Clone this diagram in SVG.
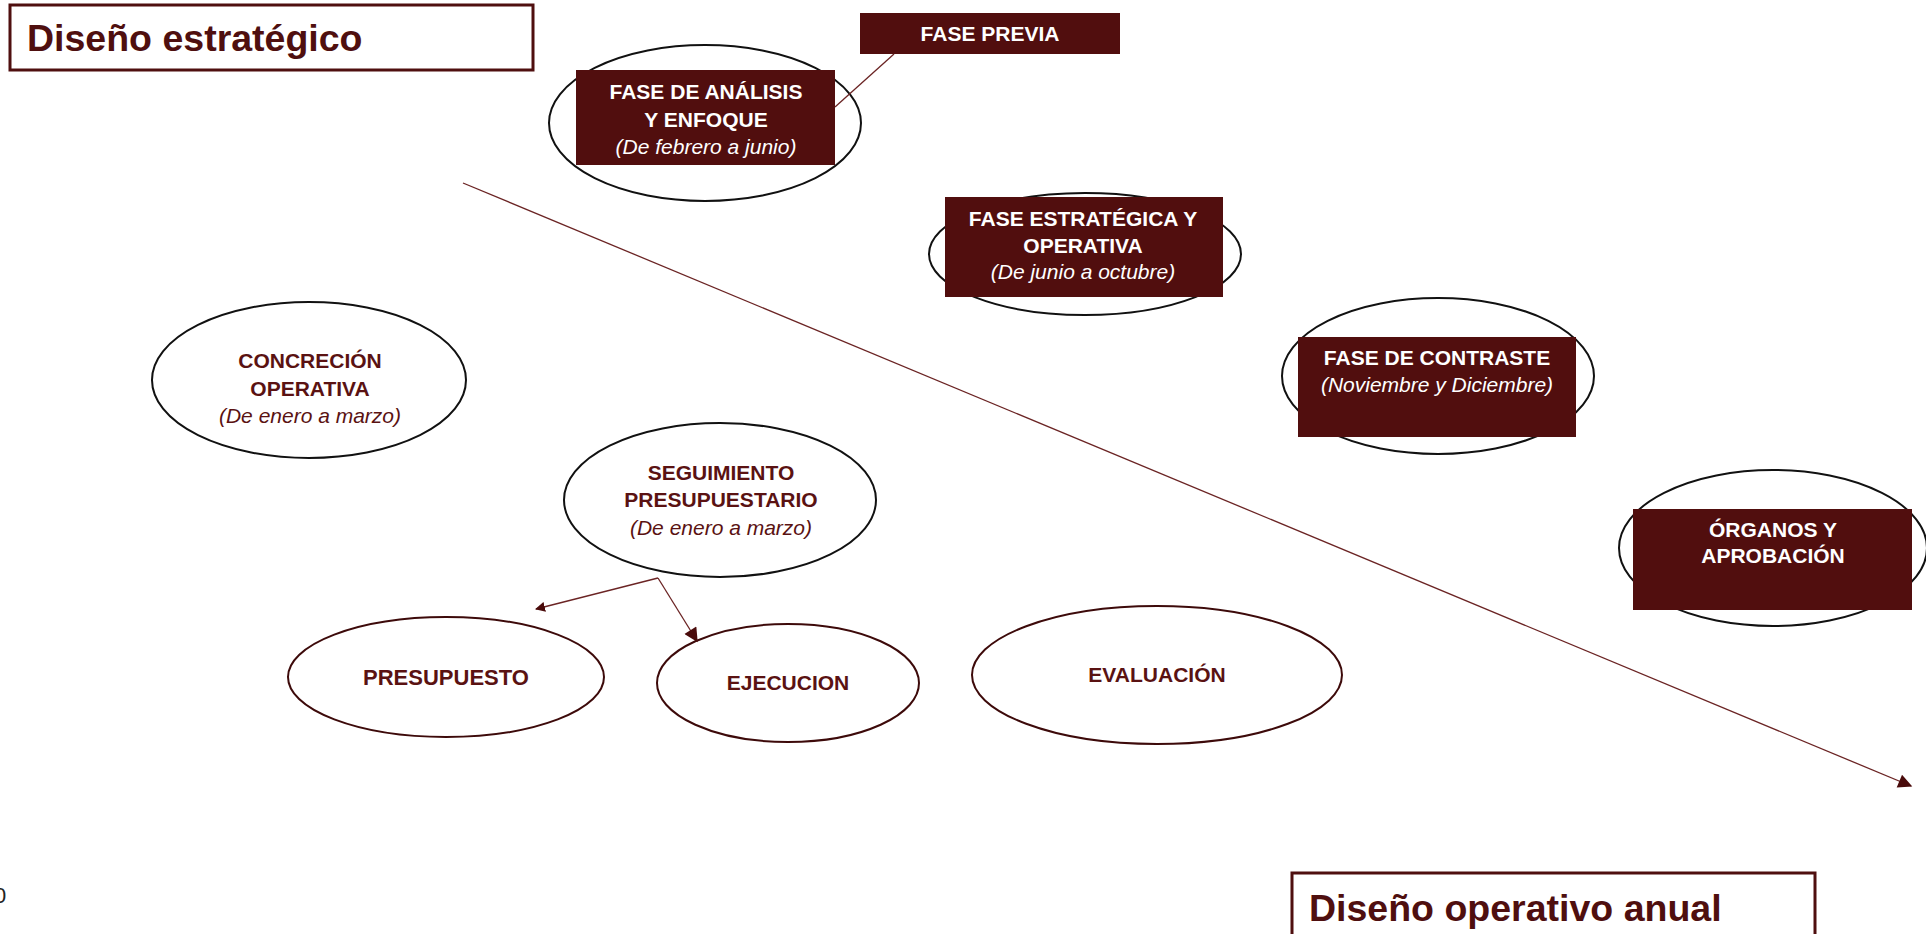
<svg xmlns="http://www.w3.org/2000/svg" width="1926" height="934" viewBox="0 0 1926 934">
<style>
text{font-family:"Liberation Sans",Arial,sans-serif;text-anchor:middle}
.b{font-weight:bold;font-size:21px}
.i{font-style:italic;font-size:21px}
.w{fill:#ffffff}
.m{fill:#5a1212}
.ell{fill:#ffffff;stroke:#111111;stroke-width:2}
.ell2{fill:#ffffff;stroke:#3d0a0a;stroke-width:2}
.box{fill:#510e0e}
.title{font-weight:bold;font-size:37.5px;fill:#4f0f0f;text-anchor:start}
.tbox{fill:#ffffff;stroke:#4f0f0f;stroke-width:3}
.ln{stroke:#6b2424;stroke-width:1.3;fill:none}
</style>
<defs>
<marker id="ah" viewBox="0 0 10 10" refX="9" refY="5" markerWidth="10" markerHeight="10" markerUnits="userSpaceOnUse" orient="auto">
<path d="M0,0 L10,5 L0,10 z" fill="#4a0b0b"/>
</marker>
<marker id="ahb" viewBox="0 0 10 10" refX="9" refY="5" markerWidth="16" markerHeight="14" markerUnits="userSpaceOnUse" orient="auto">
<path d="M0,0 L10,5 L0,10 z" fill="#4a0b0b"/>
</marker>
</defs>

<g id="titulo-estrategico">
<rect class="tbox" x="10" y="5" width="523" height="65"/>
<text class="title" x="27" y="51">Diseño estratégico</text>
</g>

<g id="fase-previa">
<rect class="box" x="860" y="13" width="260" height="41"/>
<text class="b w" x="990" y="41">FASE PREVIA</text>
</g>

<g id="fase-analisis">
<ellipse class="ell" cx="705" cy="123" rx="156" ry="78"/>
<rect class="box" x="576" y="70" width="259" height="95"/>
<text class="b w" x="706" y="99">FASE DE ANÁLISIS</text>
<text class="b w" x="706" y="127">Y ENFOQUE</text>
<text class="i w" x="706" y="154">(De febrero a junio)</text>
</g>

<g id="fase-estrategica">
<ellipse class="ell" cx="1085" cy="254" rx="156" ry="61"/>
<rect class="box" x="945" y="197" width="278" height="100"/>
<text class="b w" x="1083" y="226">FASE ESTRATÉGICA Y</text>
<text class="b w" x="1083" y="253">OPERATIVA</text>
<text class="i w" x="1083" y="279">(De junio a octubre)</text>
</g>

<g id="fase-contraste">
<ellipse class="ell" cx="1438" cy="376" rx="156" ry="78"/>
<rect class="box" x="1298" y="337" width="278" height="100"/>
<text class="b w" x="1437" y="365">FASE DE CONTRASTE</text>
<text class="i w" x="1437" y="392">(Noviembre y Diciembre)</text>
</g>

<g id="organos">
<ellipse class="ell" cx="1773" cy="548" rx="154" ry="78"/>
<rect class="box" x="1633" y="509" width="279" height="101"/>
<text class="b w" x="1773" y="537">ÓRGANOS Y</text>
<text class="b w" x="1773" y="563">APROBACIÓN</text>
</g>

<g id="concrecion">
<ellipse class="ell" cx="309" cy="380" rx="157" ry="78"/>
<text class="b m" x="310" y="368">CONCRECIÓN</text>
<text class="b m" x="310" y="396">OPERATIVA</text>
<text class="i m" x="310" y="423">(De enero a marzo)</text>
</g>

<g id="seguimiento">
<ellipse class="ell" cx="720" cy="500" rx="156" ry="77"/>
<text class="b m" x="721" y="480">SEGUIMIENTO</text>
<text class="b m" x="721" y="507">PRESUPUESTARIO</text>
<text class="i m" x="721" y="535">(De enero a marzo)</text>
</g>

<g id="presupuesto">
<ellipse class="ell2" cx="446" cy="677" rx="158" ry="60"/>
<text class="b m" x="446" y="685" style="font-size:22px">PRESUPUESTO</text>
</g>

<g id="ejecucion">
<ellipse class="ell2" cx="788" cy="683" rx="131" ry="59"/>
<text class="b m" x="788" y="690">EJECUCION</text>
</g>

<g id="evaluacion">
<ellipse class="ell2" cx="1157" cy="675" rx="185" ry="69"/>
<text class="b m" x="1157" y="682">EVALUACIÓN</text>
</g>

<g id="titulo-operativo">
<rect class="tbox" x="1292" y="873" width="523" height="70"/>
<text class="title" x="1309" y="921">Diseño operativo anual</text>
</g>

<g id="pagina">
<text x="-6" y="903" style="font-size:22px;fill:#222222;text-anchor:start">0</text>
</g>

<g id="conectores">
<line class="ln" x1="894" y1="54" x2="835" y2="107"/>
<line class="ln" x1="463" y1="183" x2="1911" y2="786" marker-end="url(#ahb)"/>
<line class="ln" x1="658" y1="578" x2="536" y2="609" marker-end="url(#ah)"/>
<line class="ln" x1="658" y1="578" x2="697" y2="641" marker-end="url(#ahb)"/>
</g>
</svg>
